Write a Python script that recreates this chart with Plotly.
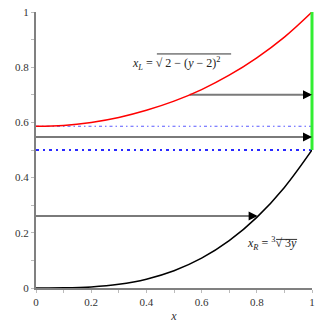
import plotly.graph_objects as go

# Curve samples
x_pts = [0.0, 0.1, 0.2, 0.3, 0.4, 0.5, 0.6, 0.7, 0.8, 0.9, 1.0]
red_y = [0.586, 0.589, 0.600, 0.618, 0.644, 0.677, 0.719, 0.771, 0.834, 0.909, 1.0]
black_y = [0.0, 0.0005, 0.004, 0.0135, 0.032, 0.0625, 0.108, 0.1715, 0.256, 0.3645, 0.5]

green_x = [1.0, 1.0]
green_y = [0.5, 1.0]

blue_levels = [0.586, 0.5]

arrow_y = [0.70, 0.547, 0.261]
arrow_x0 = [0.557, 0.0, 0.0]
arrow_x1 = [1.0, 1.0, 0.803]

label_L = "<i>x<sub>L</sub></i> = √ 2 − (<i>y</i> − 2)<sup>2</sup>"
label_R = "<i>x<sub>R</sub></i> = <sup>3</sup>√ 3<i>y</i>"

FONT = "Liberation Serif"

fig = go.Figure()

# blue horizontal reference lines
fig.add_trace(go.Scatter(x=[0, 1], y=[blue_levels[0]] * 2, mode="lines",
                         line=dict(color="#5a5aff", width=1.2, dash="3px,3px,1.5px,3px"), hoverinfo="skip"))
fig.add_trace(go.Scatter(x=[0, 1], y=[blue_levels[1]] * 2, mode="lines",
                         line=dict(color="#2a2aff", width=2.2, dash="3px,4px,2px,4px"), hoverinfo="skip"))

# arrows shafts
for y, x0, x1 in zip(arrow_y, arrow_x0, arrow_x1):
    fig.add_trace(go.Scatter(x=[x0, x1 - 0.02], y=[y, y], mode="lines",
                             line=dict(color="#7a7a7a", width=2), hoverinfo="skip"))

fig.add_trace(go.Scatter(x=x_pts, y=red_y, mode="lines", line=dict(color="red", width=1.5, shape="spline")))
fig.add_trace(go.Scatter(x=x_pts, y=black_y, mode="lines", line=dict(color="black", width=1.5, shape="spline")))

# green vertical segment (x = 1 is the right edge of the x axis, i.e. paper x = 1)
fig.add_shape(type="line", xref="paper", yref="y", x0=green_x[0], x1=green_x[1],
              y0=green_y[0], y1=green_y[1], line=dict(color="#33ee33", width=3))

# arrow heads
for y, x1 in zip(arrow_y, arrow_x1):
    fig.add_annotation(x=x1, y=y, ax=x1 - 0.03, ay=y, xref="x", yref="y", axref="x", ayref="y",
                       text="", showarrow=True, arrowhead=2, arrowsize=0.9, arrowwidth=2,
                       arrowcolor="black")

fig.add_annotation(x=0.341, y=0.815, xref="x", yref="y", xanchor="left", text=label_L, showarrow=False,
                   font=dict(family=FONT, size=12, color="#222"))
fig.add_annotation(x=0.757, y=0.16, xref="x", yref="y", xanchor="left", text=label_R, showarrow=False,
                   font=dict(family=FONT, size=12, color="#222"))
# radical overlines
fig.add_shape(type="line", xref="x", yref="y", x0=0.438, x1=0.707, y0=0.848, y1=0.848,
              line=dict(color="#333", width=1))
fig.add_shape(type="line", xref="x", yref="y", x0=0.87, x1=0.946, y0=0.176, y1=0.176,
              line=dict(color="#333", width=1))

axis_common = dict(range=[0, 1], dtick=0.2, showgrid=False, zeroline=False, automargin=False,
                   showline=True, linecolor="#808080", linewidth=2,
                   ticks="outside", ticklen=3, tickcolor="#bbbbbb", tickwidth=1,
                   minor=dict(dtick=0.1, ticks="outside", ticklen=3, tickcolor="#bbbbbb"),
                   tickfont=dict(family=FONT, size=11, color="#333"))

fig.update_layout(
    width=326, height=326, showlegend=False,
    margin=dict(l=36, r=14, t=12, b=38),
    plot_bgcolor="white", paper_bgcolor="white",
    xaxis=dict(**axis_common, title=dict(text="<i>x</i>", font=dict(family=FONT, size=12, color="#333"), standoff=4)),
    yaxis=dict(**axis_common),
)

fig.write_html("out.html")
